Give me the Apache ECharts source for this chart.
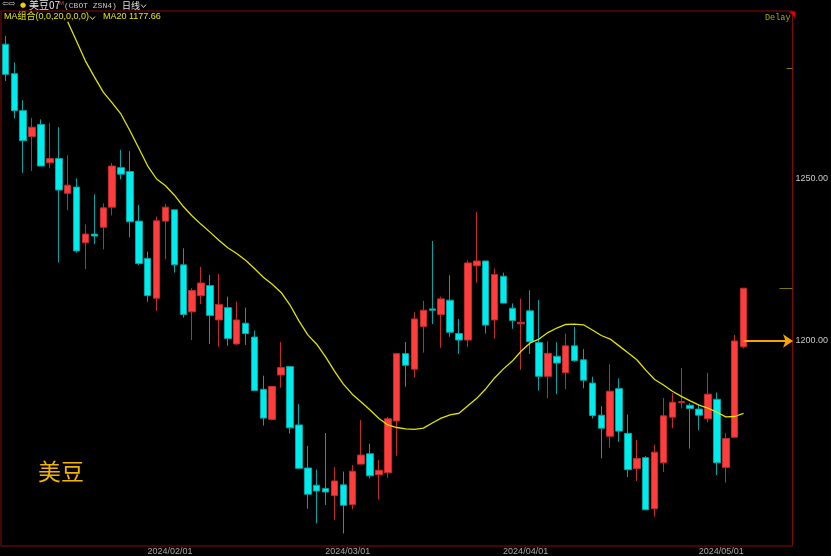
<!DOCTYPE html>
<html><head><meta charset="utf-8">
<script src="https://cdn.jsdelivr.net/npm/echarts@6/dist/echarts.min.js"></script>
<style>html,body{margin:0;padding:0;background:#000;}#c{width:831px;height:556px;}</style>
</head><body><div id="c"></div>
<script>
// ---- data ----
const dates = [
'2024/01/04','2024/01/05','2024/01/08','2024/01/09','2024/01/10','2024/01/11','2024/01/12','2024/01/16','2024/01/17','2024/01/18',
'2024/01/19','2024/01/22','2024/01/23','2024/01/24','2024/01/25','2024/01/26','2024/01/29','2024/01/30','2024/01/31',
'2024/02/01','2024/02/02','2024/02/05','2024/02/06','2024/02/07','2024/02/08','2024/02/09','2024/02/12','2024/02/13','2024/02/14',
'2024/02/15','2024/02/16','2024/02/20','2024/02/21','2024/02/22','2024/02/23','2024/02/26','2024/02/27','2024/02/28','2024/02/29',
'2024/03/01','2024/03/04','2024/03/05','2024/03/06','2024/03/07','2024/03/08','2024/03/11','2024/03/12','2024/03/13','2024/03/14',
'2024/03/15','2024/03/18','2024/03/19','2024/03/20','2024/03/21','2024/03/22','2024/03/25','2024/03/26','2024/03/27','2024/03/28',
'2024/04/01','2024/04/02','2024/04/03','2024/04/04','2024/04/05','2024/04/08','2024/04/09','2024/04/10','2024/04/11','2024/04/12',
'2024/04/15','2024/04/16','2024/04/17','2024/04/18','2024/04/19','2024/04/22','2024/04/23','2024/04/24','2024/04/25','2024/04/26',
'2024/04/29','2024/04/30','2024/05/01','2024/05/02','2024/05/03'];
const futureSlots = ['2024/05/06','2024/05/07','2024/05/08','2024/05/09','2024/05/10'];

const opens = [1291.6,1282.5,1271.1,1263.1,1266.8,1255.0,1256.3,1245.6,1247.5,1230.3,
1233.0,1235.1,1241.3,1253.5,1252.3,1237.0,1225.5,1213.2,1237.0,1240.5,
1223.5,1209.0,1214.0,1217.1,1206.5,1210.3,1199.1,1205.5,1201.2,1185.1,
1175.8,1189.5,1192.1,1174.1,1160.8,1155.5,1154.5,1152.3,1155.6,1149.5,
1162.0,1165.2,1158.7,1159.3,1175.3,1196.1,1191.3,1204.5,1209.9,1208.2,
1212.6,1202.3,1200.3,1223.2,1224.7,1206.5,1220.0,1210.1,1205.3,1209.3,
1199.5,1189.1,1195.3,1190.2,1198.5,1194.2,1187.0,1177.1,1170.6,1185.3,
1171.5,1160.6,1164.0,1148.2,1162.4,1176.5,1181.0,1180.2,1179.0,1176.0,
1182.0,1161.0,1170.3,1198.2];
const closes = [1282.3,1271.1,1261.8,1266.0,1254.0,1256.3,1246.6,1248.1,1227.8,1233.0,
1232.4,1241.1,1254.0,1251.5,1236.8,1223.9,1214.0,1237.1,1241.3,1223.5,
1208.2,1215.6,1217.9,1207.9,1211.3,1200.8,1206.5,1202.3,1184.7,1176.2,
1186.0,1191.8,1173.2,1160.7,1152.7,1153.7,1153.4,1156.8,1149.3,1159.8,
1164.8,1158.4,1160.1,1176.0,1196.1,1192.5,1206.8,1209.5,1209.5,1213.0,
1202.7,1200.3,1224.1,1224.7,1204.9,1220.5,1211.7,1206.3,1205.8,1199.8,
1189.1,1196.2,1193.2,1198.5,1193.9,1187.9,1177.0,1173.1,1184.5,1172.2,
1160.3,1163.7,1147.9,1165.7,1176.9,1181.1,1181.3,1179.2,1177.1,1183.6,
1162.4,1169.9,1200.0,1216.3];
const lows = [1280.2,1268.7,1251.9,1252.5,1254.0,1253.3,1224.2,1240.4,1227.3,1222.2,
1229.9,1228.3,1238.8,1249.9,1232.0,1223.4,1212.1,1209.3,1225.2,1221.1,
1207.2,1200.3,1211.4,1199.1,1198.2,1198.5,1198.8,1198.8,1184.7,1173.9,
1175.5,1185.6,1171.4,1160.7,1148.2,1143.7,1149.4,1144.8,1140.6,1148.1,
1162.0,1157.6,1151.1,1157.8,1164.6,1185.9,1188.8,1196.4,1205.2,1197.9,
1201.3,1196.0,1198.1,1218.0,1202.3,1200.7,1211.7,1203.8,1191.1,1196.0,
1184.7,1182.3,1183.6,1185.1,1193.6,1185.4,1176.1,1163.8,1167.1,1168.9,
1158.0,1156.8,1147.9,1145.8,1159.6,1173.1,1179.2,1166.8,1172.5,1175.0,
1158.6,1156.3,1170.3,1197.7];
const highs = [1294.1,1286.0,1274.3,1268.9,1268.4,1267.2,1266.0,1257.3,1250.2,1236.0,
1245.3,1242.5,1254.9,1259.0,1258.6,1242.0,1227.6,1238.4,1242.3,1240.5,
1228.6,1216.3,1222.9,1220.4,1220.7,1213.7,1212.1,1210.3,1203.2,1189.3,
1186.0,1199.7,1192.1,1180.6,1167.6,1160.3,1171.6,1161.1,1159.7,1161.7,
1175.6,1168.3,1163.3,1176.6,1196.1,1199.7,1208.9,1212.4,1230.9,1213.7,
1220.3,1206.8,1224.9,1239.9,1224.7,1222.4,1221.1,1211.6,1213.1,1215.7,
1212.7,1199.9,1199.6,1202.3,1204.3,1197.5,1189.0,1179.9,1192.8,1188.5,
1177.3,1169.5,1164.5,1168.0,1182.4,1183.9,1191.7,1180.8,1180.3,1190.2,
1184.1,1171.5,1201.9,1216.3];
const ma20 = ['-','-','-','-','-','-','-',1298.5,1292.5,1286.4,1281.5,1276.8,1273.5,1270.0,1264.9,1259.5,1254.0,1250.0,1247.9,1245.0,
1241.5,1238.6,1236.0,1233.6,1231.1,1228.8,1227.0,1224.9,1222.4,1219.7,1217.5,1215.0,1211.1,1206.2,1201.9,1199.0,1195.1,1190.7,1186.7,1183.6,
1181.2,1178.7,1176.1,1174.1,1173.3,1172.9,1172.7,1173.1,1174.7,1176.2,1177.2,1177.7,1180.0,1182.3,1185.2,1188.6,1191.4,1193.8,1196.9,1199.4,
1200.6,1202.6,1204.0,1205.1,1205.2,1205.0,1203.4,1201.7,1200.6,1198.5,1196.4,1194.2,1191.0,1188.1,1186.4,1184.5,1182.9,1181.5,1180.2,1179.3,
1178.0,1176.6,1176.7,1177.66];
const yTickLabels = [1200, 1250];
const yMin = 1136.73, yMax = 1301.85;
const markerHigh = 1284.3;
const lastMA = 1177.66;

// ---- build ----
const categories = dates.concat(futureSlots);
const kData = dates.map((d, i) => [opens[i], closes[i], lows[i], highs[i]]);
const prevClose = closes[closes.length - 2];
const lastClose = closes[closes.length - 1];

const UP = '#ff3d3d', DOWN = '#00ecec';
const UP_WICK = '#c02c2c', DOWN_WICK = '#00a6a6';
const chart = echarts.init(document.getElementById('c'), null, {renderer: 'canvas'});
const chev = (x, y, c) => ({type: 'polyline', shape: {points: [[x, y - 1.5], [x + 2.5, y + 1.5], [x + 5, y - 1.5]]}, style: {stroke: c, lineWidth: 1, fill: null}, silent: true});

chart.setOption({
  backgroundColor: '#000000',
  animation: false,
  grid: {left: 1, right: 36, top: 11, bottom: 10, show: true, borderColor: '#8a0a0a', borderWidth: 1},
  xAxis: {
    type: 'category', data: categories, boundaryGap: true,
    axisLine: {show: false}, axisTick: {show: false}, splitLine: {show: false},
    axisLabel: {
      interval: (i, v) => v.slice(8) === '01',
      color: '#a8a8a8', fontSize: 9, fontFamily: 'Liberation Sans, Arial, sans-serif',
      margin: 1, padding: [0, 9, 0, 0]
    }
  },
  yAxis: [{
    type: 'value', position: 'right', min: yMin, max: yMax,
    splitLine: {show: false}, axisLine: {show: false},
    axisTick: {show: true, inside: true, length: 13, customValues: [lastClose], lineStyle: {color: '#7a7a00'}},
    axisLabel: {customValues: yTickLabels, formatter: v => v.toFixed(2), color: '#c8c8c8', fontSize: 9,
      fontFamily: 'Liberation Sans, Arial, sans-serif', margin: 3}
  }, {
    type: 'value', position: 'right', min: yMin, max: yMax,
    splitLine: {show: false}, axisLine: {show: false}, axisLabel: {show: false},
    axisTick: {show: true, inside: true, length: 6, customValues: [markerHigh], lineStyle: {color: '#7a7a00'}}
  }],
  series: [{
    type: 'candlestick', data: kData, barWidth: 7,
    itemStyle: {color: UP, color0: DOWN, borderColor: UP_WICK, borderColor0: DOWN_WICK, borderWidth: 1},
    markLine: {
      silent: true, symbol: ['none', 'arrow'], symbolSize: 10, symbolOffset: [0, [0, -5]],
      label: {show: false},
      lineStyle: {color: '#f5a400', width: 2, type: 'solid'},
      data: [[{coord: [categories[dates.length - 1], prevClose]}, {coord: [categories[categories.length - 1], prevClose]}]]
    }
  }, {
    type: 'line', data: ma20, showSymbol: false, symbol: 'none',
    lineStyle: {color: '#e2e200', width: 1.3}, z: 5
  }],
  graphic: [
    {type: 'text', left: 2, top: 0, style: {text: '⇦⇨', fill: '#c8c8c8', fontSize: 8, fontFamily: 'DejaVu Sans'}, silent: true},
    {type: 'text', x: 20, y: 5, style: {text: '●', fill: '#f0d000', fontSize: 7, verticalAlign: 'middle', fontFamily: 'DejaVu Sans'}, silent: true},
    {type: 'text', x: 29, y: 5.5, style: {text: '美豆07', fill: '#e8e8e8', fontSize: 10, verticalAlign: 'middle', fontFamily: 'Noto Sans CJK SC'}, silent: true},
    {type: 'text', x: 59, y: 3, style: {text: 'M', fill: '#ff3030', fontSize: 6, verticalAlign: 'middle', fontFamily: 'Liberation Sans'}, silent: true},
    {type: 'text', x: 64, y: 5.5, style: {text: '(CBOT ZSN4)', fill: '#c8c8c8', fontSize: 8, verticalAlign: 'middle', fontFamily: 'Liberation Mono'}, silent: true},
    {type: 'text', x: 122, y: 5.5, style: {text: '日线', fill: '#e0e0e0', fontSize: 9, verticalAlign: 'middle', fontFamily: 'Noto Sans CJK SC'}, silent: true},
    chev(141, 6, '#d0d0d0'),
    {type: 'text', x: 4, y: 17, style: {text: 'MA组合(0,0,20,0,0,0)', fill: '#e6e600', fontSize: 9, verticalAlign: 'middle', fontFamily: 'Liberation Sans, Noto Sans CJK SC'}, silent: true},
    chev(90, 18, '#e6e600'),
    {type: 'text', x: 103, y: 17, style: {text: 'MA20 ' + lastMA.toFixed(2), fill: '#e6e600', fontSize: 9, verticalAlign: 'middle', fontFamily: 'Liberation Sans'}, silent: true},
    {type: 'text', x: 765, y: 18, style: {text: 'Delay', fill: '#a8a800', fontSize: 8.5, verticalAlign: 'middle', fontFamily: 'Liberation Mono'}, silent: true},
    {type: 'polygon', shape: {points: [[789, 11.5], [795, 11.5], [795, 17.5]]}, style: {fill: '#e00000'}, silent: true},
    {type: 'text', x: 38, y: 471, style: {text: '美豆', fill: '#f2b400', fontSize: 23, verticalAlign: 'middle', fontFamily: 'Noto Sans CJK SC'}, silent: true}
  ]
});
</script></body></html>
